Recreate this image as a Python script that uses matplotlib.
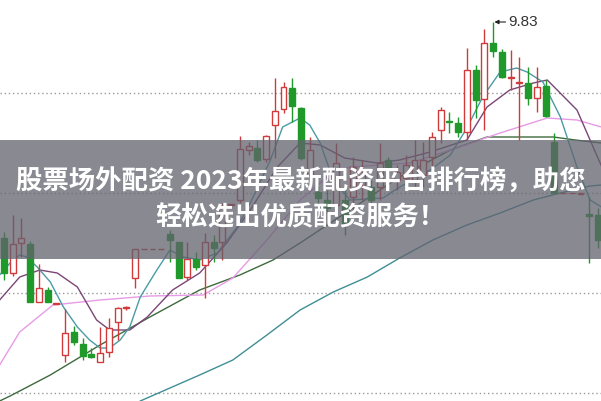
import matplotlib.pyplot as plt
from matplotlib.patches import Rectangle

plt.rcParams['font.family'] = ['Noto Sans CJK SC', 'DejaVu Sans']

# daily candles, left to right
opens = [8.75, 8.575, 8.725, 8.72, 8.43, 8.49, 8.42, 8.165, 8.28, 8.22,
         8.17, 8.13, 8.18, 8.33, 8.40, 8.55, 8.695, 8.695, 8.695, 8.77,
         8.73, 8.555, 8.645, 8.615, 8.73, 8.73, 8.915, 8.94, 9.19, 9.20,
         9.145, 9.315, 9.395, 9.50, 9.40, 9.065, 8.98, 8.94, 8.915, 8.94,
         8.955, 9.015, 9.005, 9.005, 9.14, 9.04, 9.05, 9.04, 9.065, 9.155,
         9.29, 9.335, 9.325, 9.28, 9.59, 9.445, 9.725, 9.68, 9.55, 9.525,
         9.525, 9.45, 9.51, 9.23, 8.975, 8.975, 8.97, 8.87, 8.865]
highs = [8.78, 8.865, 8.85, 8.735, 8.62, 8.505, 8.425, 8.395, 8.31, 8.25,
         8.20, 8.305, 8.35, 8.405, 8.41, 8.695, 8.695, 8.695, 8.695, 8.79,
         8.73, 8.73, 8.68, 8.775, 8.765, 8.925, 8.92, 9.26, 9.23, 9.24,
         9.265, 9.55, 9.53, 9.55, 9.405, 9.255, 9.01, 8.99, 9.225, 9.005,
         9.155, 9.14, 9.04, 9.225, 9.155, 9.115, 9.165, 9.24, 9.23, 9.28,
         9.405, 9.38, 9.355, 9.70, 9.615, 9.795, 9.83, 9.695, 9.69, 9.655,
         9.605, 9.605, 9.54, 9.275, 8.975, 8.975, 8.975, 8.955, 8.90]
lows = [8.54, 8.56, 8.655, 8.43, 8.43, 8.43, 8.42, 8.13, 8.215, 8.14,
        8.15, 8.13, 8.155, 8.24, 8.39, 8.50, 8.695, 8.695, 8.695, 8.63,
        8.55, 8.54, 8.59, 8.45, 8.63, 8.64, 8.915, 8.925, 9.165, 9.13,
        9.13, 9.15, 9.375, 9.33, 9.14, 9.04, 8.915, 8.875, 8.875, 8.765,
        8.875, 8.94, 8.925, 8.94, 9.075, 8.99, 9.00, 9.005, 9.005, 9.105,
        9.225, 9.275, 9.255, 9.24, 9.35, 9.29, 9.655, 9.55, 9.49, 9.24,
        9.415, 9.38, 9.355, 8.975, 8.975, 8.975, 8.97, 8.625, 8.70]
closes = [8.575, 8.72, 8.75, 8.43, 8.50, 8.43, 8.425, 8.275, 8.23, 8.16,
          8.155, 8.175, 8.30, 8.40, 8.405, 8.695, 8.695, 8.695, 8.695, 8.74,
          8.55, 8.645, 8.605, 8.73, 8.70, 8.915, 8.92, 9.195, 9.21, 9.14,
          9.26, 9.385, 9.505, 9.41, 9.15, 9.19, 8.95, 8.90, 9.125, 8.825,
          9.105, 9.065, 8.94, 9.125, 9.10, 9.08, 9.115, 9.14, 9.14, 9.255,
          9.39, 9.33, 9.28, 9.59, 9.44, 9.725, 9.685, 9.555, 9.555, 9.53,
          9.45, 9.505, 9.36, 8.975, 8.975, 8.975, 8.975, 8.86, 8.74]

# moving averages (x in candle index)
ma5_x = [-0.5, 1.0, 1.8, 2.6, 3.8, 5.3, 6.8, 8.4, 9.8, 11.0, 12.1, 13.3, 14.4,
         15.6, 17.5, 19.0, 20.5, 22.4, 24.4, 26.7, 28.2, 30.5, 31.9, 33.9,
         35.0, 36.2, 37.7, 39.6, 43.4, 45.3, 48.8, 51.1, 53.0, 54.8, 56.8,
         58.7, 59.9, 61.7, 63.7, 65.6, 67.1, 68.4]
ma5_y = [8.565, 8.64, 8.665, 8.655, 8.605, 8.53, 8.405, 8.305, 8.24, 8.20,
         8.20, 8.24, 8.305, 8.455, 8.59, 8.69, 8.655, 8.64, 8.675, 8.805,
         8.925, 9.14, 9.305, 9.35, 9.315, 9.225, 9.04, 8.94, 8.95, 9.005,
         9.09, 9.165, 9.30, 9.455, 9.58, 9.60, 9.58, 9.53, 9.355, 9.105,
         8.94, 8.905]
ma10_x = [-0.5, 1.8, 4.1, 6.1, 8.4, 10.6, 12.1, 14.4, 16.4, 19.3, 22.4, 25.5,
          28.2, 31.3, 33.9, 36.2, 39.0, 42.7, 45.3, 48.8, 53.0, 55.3, 57.9,
          60.6, 62.2, 65.6, 68.4]
ma10_y = [8.44, 8.555, 8.59, 8.575, 8.505, 8.34, 8.29, 8.29, 8.355, 8.49,
          8.575, 8.725, 8.89, 9.105, 9.225, 9.215, 9.15, 9.125, 9.14, 9.18,
          9.24, 9.405, 9.49, 9.525, 9.54, 9.39, 9.11]
ma20_x = [-0.5, 1.8, 5.6, 11.0, 16.7, 22.8, 26.2, 30.1, 33.9, 37.3, 39.6,
          46.5, 51.1, 56.8, 62.2, 65.6, 68.4]
ma20_y = [8.115, 8.28, 8.415, 8.44, 8.46, 8.465, 8.55, 8.74, 8.94, 9.065,
          9.105, 9.125, 9.19, 9.275, 9.35, 9.34, 9.305]
ma30_x = [-0.5, 0.7, 5.3, 11.0, 16.7, 22.4, 27.0, 30.8, 33.9, 39.6, 45.3,
          51.1, 55.3, 62.9, 65.4, 68.4]
ma30_y = [7.935, 7.96, 8.065, 8.215, 8.355, 8.49, 8.565, 8.64, 8.725, 8.89,
          9.055, 9.19, 9.255, 9.255, 9.24, 9.225]
ma60_x = [15.6, 22.4, 26.2, 30.1, 33.9, 37.7, 41.6, 45.3, 49.1, 53.0, 56.8,
          60.6, 63.7, 67.1, 68.4]
ma60_y = [7.935, 8.065, 8.14, 8.265, 8.39, 8.48, 8.555, 8.65, 8.74, 8.815,
          8.875, 8.94, 8.975, 9.01, 9.015]

grid_levels = [9.475, 8.975, 8.475, 7.975]
peak_label = "9.83"
title_lines = ["股票场外配资 2023年最新配资平台排行榜，助您", "轻松选出优质配资服务！"]

up_color = '#d03a3a'
down_color = '#1f9a2a'

fig = plt.figure(figsize=(6.01, 4.01), dpi=100)
ax = fig.add_axes([0, 0, 1, 1])
ax.set_xlim(-0.458, 68.35)
ax.set_ylim(7.935, 9.94)
ax.axis('off')

for lvl in grid_levels:
    ax.axhline(lvl, color='#9a9a9a', lw=1, ls=(0, (1, 2)), zorder=1)

ax.plot(ma60_x, ma60_y, color='#3f8e95', lw=1, zorder=2)
ax.plot(ma30_x, ma30_y, color='#3d6a3d', lw=1, zorder=2)
ax.plot(ma20_x, ma20_y, color='#e79be6', lw=1, zorder=2)
ax.plot(ma10_x, ma10_y, color='#7a4676', lw=1, zorder=2)
ax.plot(ma5_x, ma5_y, color='#4a9ba6', lw=1, zorder=2)

w = 0.68
for i, (o, h, l, c) in enumerate(zip(opens, highs, lows, closes)):
    col = up_color if c >= o else down_color
    lo, hi = min(o, c), max(o, c)
    ax.vlines(i, l, lo, color=col, lw=1, zorder=3)
    ax.vlines(i, hi, h, color=col, lw=1, zorder=3)
    if hi - lo < 0.004:
        ax.hlines(lo, i - w / 2, i + w / 2, color=col, lw=1, zorder=3)
    elif c >= o:
        ax.add_patch(Rectangle((i - w / 2, lo), w, hi - lo, facecolor='white',
                               edgecolor=col, lw=1, zorder=3))
    else:
        ax.add_patch(Rectangle((i - w / 2, lo), w, hi - lo, facecolor=col,
                               edgecolor=col, lw=1, zorder=3))

peak = highs.index(max(highs))
ax.annotate(peak_label, xy=(peak + 0.15, highs[peak]), xytext=(10, 0),
            textcoords='offset points', va='center', ha='left',
            fontsize=11, family=['Liberation Sans'], color='#333333',
            arrowprops=dict(arrowstyle='-|>', color='#222222', lw=0.8,
                            mutation_scale=6, shrinkA=0, shrinkB=0),
            zorder=4)

# grey banner with the headline
fig.patches.append(Rectangle((0, 0.354), 1, 0.297, transform=fig.transFigure,
                             facecolor='#62626e', alpha=0.75, zorder=5))
fig.text(0.5, 0.546, title_lines[0], ha='center', va='center', color='white',
         fontsize=19, fontweight='bold', zorder=6)
fig.text(0.5, 0.456, title_lines[1], ha='center', va='center', color='white',
         fontsize=19, fontweight='bold', zorder=6)

fig.savefig('out.png', dpi=100)
